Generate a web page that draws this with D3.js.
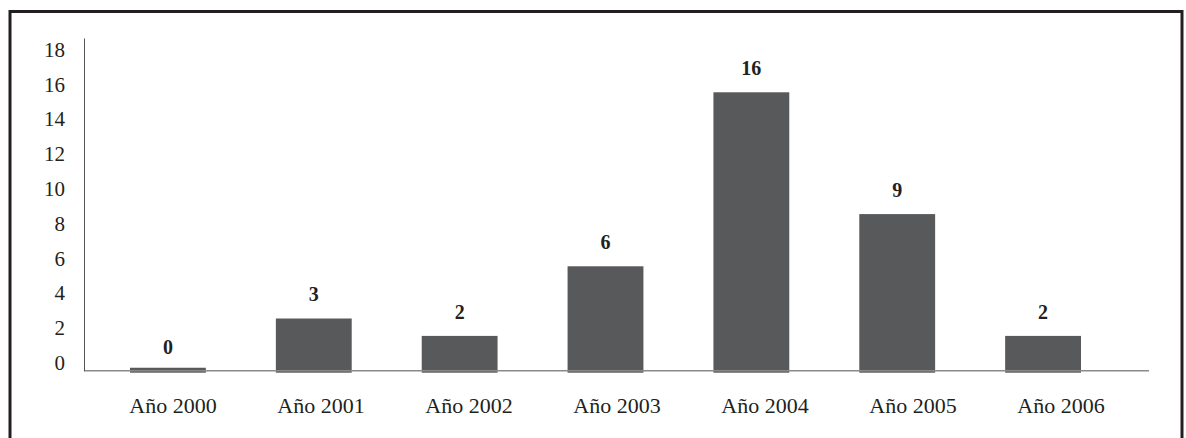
<!DOCTYPE html>
<html>
<head>
<meta charset="utf-8">
<script src="https://cdn.jsdelivr.net/npm/d3@7"></script>
<style>
  html, body { margin: 0; padding: 0; background: #fff; }
  svg { display: block; }
</style>
</head>
<body>
<script>
// ---- data ----
const categories = ["Año 2000", "Año 2001", "Año 2002", "Año 2003", "Año 2004", "Año 2005", "Año 2006"];
const values = [0.17, 3, 2, 6, 16, 9, 2];
const valueLabels = ["0", "3", "2", "6", "16", "9", "2"];
const labelValues = [0, 3, 2, 6, 16, 9, 2];
const yTicks = [0, 2, 4, 6, 8, 10, 12, 14, 16, 18];

const FONT = "'Liberation Serif', 'DejaVu Serif', serif";

// ---- layout ----
const W = 1186, H = 438;
const svg = d3.select("body").append("svg").attr("width", W).attr("height", H)
  .style("font-family", FONT);

// frame
svg.append("rect")
  .attr("x", 10).attr("y", 11.5)
  .attr("width", 1172).attr("height", 470)
  .attr("fill", "none").attr("stroke", "#231f20").attr("stroke-width", 3);

const y = d3.scaleLinear().domain([0, 19.12]).range([370.7, 38]);
const xBars = d3.scaleBand().domain(categories).range([95, 1116]).paddingInner(0.48).paddingOuter(0.24);
const xLabels = d3.scaleBand().domain(categories).range([99, 1135]);

// bars
svg.append("g").selectAll("rect").data(values).join("rect")
  .attr("x", (d, i) => xBars(categories[i]))
  .attr("width", xBars.bandwidth())
  .attr("y", d => y(d))
  .attr("height", d => y(0) - y(d) + 2)
  .attr("fill", "#58595b");

// x axis line
svg.append("line")
  .attr("x1", 84).attr("x2", 1149)
  .attr("y1", y(0)).attr("y2", y(0))
  .attr("stroke", "#8a8a8a").attr("stroke-width", 1.5);

// y axis
const yAxis = svg.append("g").attr("transform", "translate(84,0)")
  .call(d3.axisLeft(y).tickValues(yTicks).tickSize(0).tickPadding(19).tickFormat(d3.format("d")));
yAxis.select(".domain").attr("stroke", "#555").attr("stroke-width", 1);
yAxis.selectAll("text")
  .style("font-family", FONT).style("font-size", "21px")
  .attr("y", -8).attr("fill", "#231f20");

// x labels
const xAxis = svg.append("g").attr("transform", `translate(0,${y(0)})`)
  .call(d3.axisBottom(xLabels).tickSize(0).tickPadding(0));
xAxis.select(".domain").remove();
xAxis.selectAll("text")
  .style("font-family", FONT).style("font-size", "22px")
  .attr("dy", null).attr("y", 42.5)
  .attr("fill", "#231f20");

// value labels
svg.append("g").selectAll("text").data(valueLabels).join("text")
  .attr("x", (d, i) => xBars(categories[i]) + xBars.bandwidth() / 2)
  .attr("y", (d, i) => y(labelValues[i]) - 17)
  .attr("text-anchor", "middle")
  .style("font-family", FONT).style("font-size", "20px").style("font-weight", "bold")
  .attr("fill", "#231f20")
  .text(d => d);
</script>
</body>
</html>
